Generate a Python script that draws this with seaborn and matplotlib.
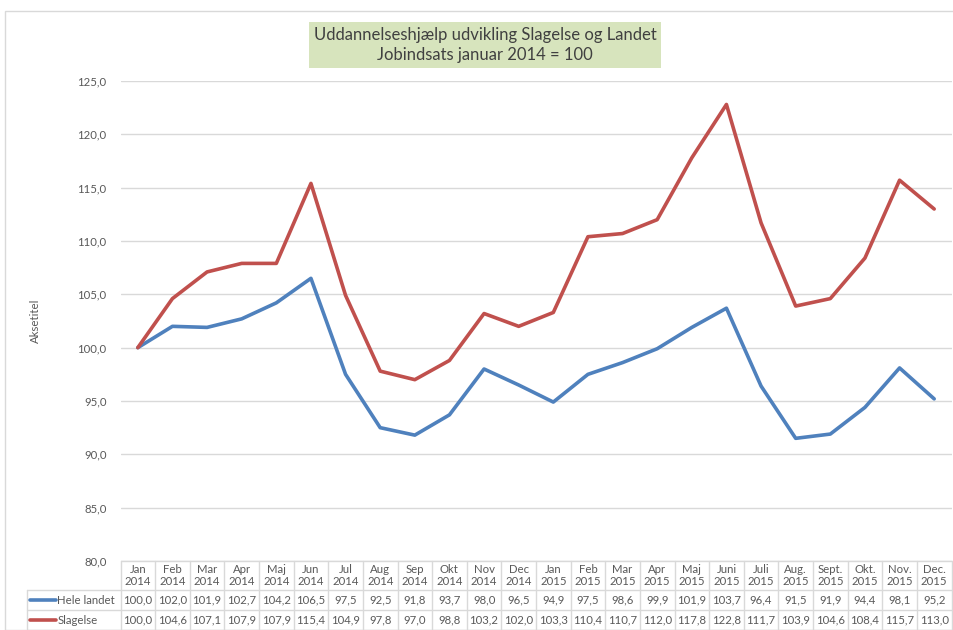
import matplotlib
matplotlib.use("Agg")
import matplotlib.pyplot as plt
import matplotlib.transforms as mtransforms
from matplotlib.patches import Rectangle
import seaborn as sns
import numpy as np

months = ["Jan", "Feb", "Mar", "Apr", "Maj", "Jun", "Jul", "Aug", "Sep", "Okt", "Nov", "Dec",
          "Jan", "Feb", "Mar", "Apr", "Maj", "Juni", "Juli", "Aug.", "Sept.", "Okt.", "Nov.", "Dec."]
years = ["2014"] * 12 + ["2015"] * 12
hele_landet = [100.0, 102.0, 101.9, 102.7, 104.2, 106.5, 97.5, 92.5, 91.8, 93.7, 98.0, 96.5,
               94.9, 97.5, 98.6, 99.9, 101.9, 103.7, 96.4, 91.5, 91.9, 94.4, 98.1, 95.2]
slagelse = [100.0, 104.6, 107.1, 107.9, 107.9, 115.4, 104.9, 97.8, 97.0, 98.8, 103.2, 102.0,
            103.3, 110.4, 110.7, 112.0, 117.8, 122.8, 111.7, 103.9, 104.6, 108.4, 115.7, 113.0]
series_names = ["Hele landet", "Slagelse"]
series_colors = ["#4F81BD", "#C0504D"]
y_ticks = [80, 85, 90, 95, 100, 105, 110, 115, 120, 125]

sns.set_style("white")
plt.rcParams["font.family"] = ["Lato", "DejaVu Sans"]
text_col = "#595959"
grid_col = "#D9D9D9"

W, H = 954, 630
fig = plt.figure(figsize=(W / 100, H / 100), dpi=100)
ax = fig.add_axes([120.5 / W, 1 - 561 / H, (951.5 - 120.5) / W, (561 - 81) / H])

# outer chart frame
fig.patches.append(Rectangle((5 / W, 0), 1, 1 - 11 / H, transform=fig.transFigure,
                             fill=False, edgecolor="#D9D9D9", lw=1))

x = np.arange(len(months))
for vals, name, col in zip([hele_landet, slagelse], series_names, series_colors):
    sns.lineplot(x=x, y=vals, ax=ax, color=col, lw=2.6, label=name, legend=False)

ax.set_xlim(-0.5, len(months) - 0.5)
ax.set_ylim(80, 125)
ax.set_yticks(y_ticks)
ax.set_yticklabels([f"{v:.1f}".replace(".", ",") for v in y_ticks], fontsize=8.2, color=text_col)
ax.tick_params(axis="y", length=0, pad=10)
ax.set_xticks([])
ax.grid(axis="y", color=grid_col, lw=1)
ax.set_axisbelow(True)
for s in ax.spines.values():
    s.set_visible(False)
ax.set_ylabel("Aksetitel", fontsize=8.2, color=text_col, labelpad=26)

# title box
fig.text(485 / W, 1 - 45 / H, "Uddannelseshjælp udvikling Slagelse og Landet\nJobindsats januar 2014 = 100",
         ha="center", va="center", fontsize=12, color="#404040", linespacing=1.25,
         bbox=dict(boxstyle="square,pad=0.3", fc="#D7E4BD", ec="none"))

# data table under the axis
tr = mtransforms.blended_transform_factory(ax.transData, ax.transAxes)
px = 1 / 480.0
row_lines = [0, -29 * px, -49 * px, -69 * px]
line_kw = dict(color=grid_col, lw=1, clip_on=False, transform=tr)
left_x = -3.2
for yy in row_lines:
    x0 = -0.5 if yy == 0 else left_x
    ax.plot([x0, len(months) - 0.5], [yy, yy], **line_kw)
for i in range(len(months) + 1):
    ax.plot([i - 0.5, i - 0.5], [0, row_lines[-1]], **line_kw)
ax.plot([left_x, left_x], [row_lines[1], row_lines[-1]], **line_kw)

fs = 8.2
for i, (m, yv) in enumerate(zip(months, years)):
    ax.text(i, (row_lines[0] + row_lines[1]) / 2, f"{m}\n{yv}", transform=tr, ha="center", va="center",
            fontsize=fs, color=text_col, linespacing=1.15, clip_on=False)

for r, (vals, name, col) in enumerate(zip([hele_landet, slagelse], series_names, series_colors)):
    yc = (row_lines[r + 1] + row_lines[r + 2]) / 2
    ax.plot([left_x + 0.1, left_x + 0.85], [yc, yc], color=col, lw=2.6, clip_on=False, transform=tr)
    ax.text(left_x + 0.87, yc, name, transform=tr, ha="left", va="center", fontsize=fs,
            color=text_col, clip_on=False)
    for i, v in enumerate(vals):
        ax.text(i, yc, f"{v:.1f}".replace(".", ","), transform=tr, ha="center", va="center",
                fontsize=fs, color=text_col, clip_on=False)

fig.savefig("out.png", dpi=100, facecolor="white")
